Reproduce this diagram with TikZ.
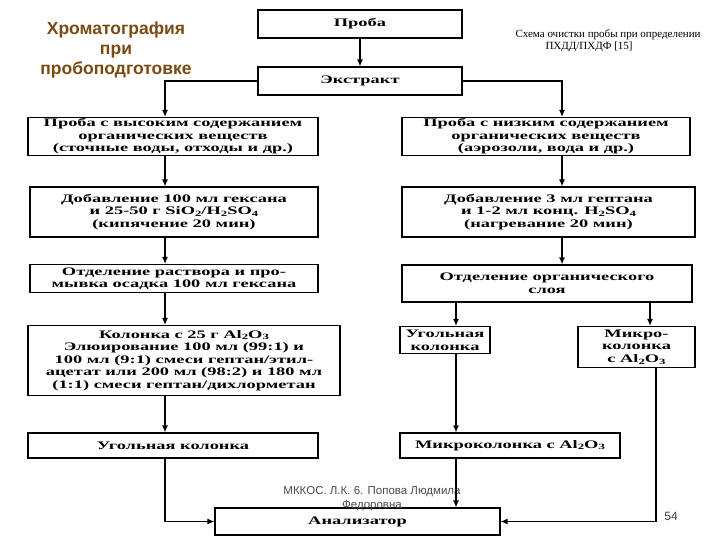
\documentclass[tikz,border=0pt]{standalone}
\usepackage{fontspec}
\setmainfont{Liberation Serif}
\newfontfamily\boxfont[FakeStretch=1.6]{Liberation Serif}
\newfontfamily\titlefont{Liberation Sans}
\usetikzlibrary{arrows.meta}
\definecolor{ttl}{HTML}{7A4A12}
\newcommand{\sbs}[1]{\raisebox{-0.3ex}{\fontsize{8}{8}\selectfont #1}}
\begin{document}
\begin{tikzpicture}[x=1pt,y=-1pt,
  bx/.style={draw,line width=1.2pt,align=center,inner sep=1pt,font=\boxfont\fontsize{11.5}{12.6}\selectfont\bfseries},
  ar/.style={line width=1.2pt,-{Latex[length=7pt,width=6pt]}}]
\useasboundingbox (0,0) rectangle (720,540);
\fill[white] (0,0) rectangle (720,540);
\node[font=\titlefont\bfseries\fontsize{17.5}{20}\selectfont,text=ttl,align=center] (title) at (116,50) {Хроматография\\при\\пробоподготовке};
\node[font=\fontsize{11}{12}\selectfont,align=left,anchor=north west] (cap) at (512,26) {Схема очистки пробы при определении\\\hspace*{30pt}ПХДД/ПХДФ [15]};
\node[bx,minimum width=204,minimum height=28] (p) at (360,24) {Проба};
\node[bx,minimum width=204,minimum height=28] (e) at (360,81) {Экстракт};
\node[bx,minimum width=290,minimum height=38] (l1) at (173,136.5) {Проба с высоким содержанием\\органических веществ\\(сточные воды, отходы и др.)};
\node[bx,minimum width=288,minimum height=38] (r1) at (546,136.5) {Проба с низким содержанием\\органических веществ\\(аэрозоли, вода и др.)};
\node[bx,minimum width=288,minimum height=50] (l2) at (174,212) {Добавление 100 мл гексана\\и 25-50 г SiO\sbs{2}/H\sbs{2}SO\sbs{4}\\(кипячение 20 мин)};
\node[bx,minimum width=293,minimum height=50] (r2) at (548.5,212) {Добавление 3 мл гептана\\и 1-2 мл конц. H\sbs{2}SO\sbs{4}\\(нагревание 20 мин)};
\node[bx,minimum width=288,minimum height=28] (l3) at (174,278.5) {Отделение раствора и про-\\мывка осадка 100 мл гексана};
\node[bx,minimum width=290,minimum height=37] (r3) at (547,283.5) {Отделение органического\\слоя};
\node[bx,minimum width=312,minimum height=70] (l4) at (184,360.5) {Колонка с 25 г Al\sbs{2}O\sbs{3}\\Элюирование 100 мл (99:1) и\\100 мл (9:1) смеси гептан/этил-\\ацетат или 200 мл (98:2) и 180 мл\\(1:1) смеси гептан/дихлорметан};
\node[bx,minimum width=90,minimum height=27] (r4a) at (445,340) {Угольная\\колонка};
\node[bx,minimum width=117,minimum height=41] (r4b) at (636.5,347) {Микро-\\колонка\\с Al\sbs{2}O\sbs{3}};
\node[bx,minimum width=290,minimum height=25] (l5) at (173,445.5) {Угольная колонка};
\node[bx,minimum width=220,minimum height=25] (r5) at (510,445.5) {Микроколонка с Al\sbs{2}O\sbs{3}};
\node[bx,minimum width=285,minimum height=27] (an) at (357.5,521.5) {Анализатор};
\node[font=\titlefont\fontsize{11.5}{14}\selectfont,text=black!70,align=center] (foot) at (372,499) {МККОС. Л.К. 6. Попова Людмила\\Федоровна};
\node[font=\titlefont\fontsize{12}{12}\selectfont,text=black!75] (pg) at (671,516) {54};
\draw[ar] (p) -- (e);
\draw[ar] (e.west) -| (l1.north -| 165,0);
\draw[ar] (e.east) -| (r1.north -| 562,0);
\draw[ar] (l1.south -| 165,0) -- (l2.north -| 165,0);
\draw[ar] (r1.south -| 562,0) -- (r2.north -| 562,0);
\draw[ar] (l2.south -| 165,0) -- (l3.north -| 165,0);
\draw[ar] (r2.south -| 562,0) -- (r3.north -| 562,0);
\draw[ar] (l3.south -| 165,0) -- (l4.north -| 165,0);
\draw[ar] (r3.south -| 456,0) -- (r4a.north -| 456,0);
\draw[ar] (r3.south -| 650,0) -- (r4b.north -| 650,0);
\draw[ar] (l4.south -| 165,0) -- (l5.north -| 165,0);
\draw[ar] (r4a.south -| 456,0) -- (r5.north -| 456,0);
\draw[ar] (r5.south -| 456,0) -- (an.north -| 456,0);
\draw[ar] (l5.south -| 165,0) |- (an.west);
\draw[ar] (r4b.south -| 656,0) |- (an.east);
\end{tikzpicture}
\end{document}
